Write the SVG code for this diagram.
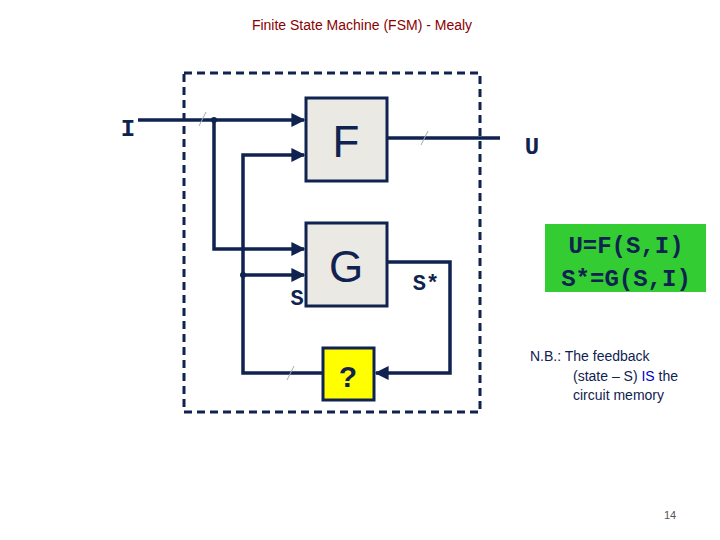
<svg xmlns="http://www.w3.org/2000/svg" width="720" height="540" viewBox="0 0 720 540">
<defs>
<style>
.w{stroke:#0f2250;stroke-width:3.5;fill:none}
.t{stroke:#aaa;stroke-width:1;fill:none}
.box{fill:#ebe9e3;stroke:#0f2250;stroke-width:3}
.m{font-family:"Liberation Mono",monospace;font-weight:bold;fill:#0f2250}
.s{font-family:"Liberation Sans",Arial,sans-serif}
</style>
<marker id="a" viewBox="0 0 10 10" refX="9" refY="5" markerWidth="4" markerHeight="4" orient="auto"><path d="M0,0L10,5L0,10z" fill="#0f2250"/></marker>
</defs>
<rect width="720" height="540" fill="#fff"/>
<text x="362" y="30" text-anchor="middle" class="s" font-size="14" fill="#8b0000">Finite State Machine (FSM) - Mealy</text>
<rect x="184" y="73" width="296" height="339" fill="none" stroke="#0f2250" stroke-width="3" stroke-dasharray="8,5"/>
<g id="connectors">
<path class="w" d="M138,120H304" marker-end="url(#a)"/>
<path class="w" d="M214,120V249H304" marker-end="url(#a)"/>
<path class="w" d="M323,373H243V155H304" marker-end="url(#a)"/>
<path class="w" d="M243,275H304" marker-end="url(#a)"/>
<path class="w" d="M387,138H500"/>
<path class="w" d="M387,262H450V373H376" marker-end="url(#a)"/>
<circle cx="214" cy="120" r="3" fill="#0f2250"/>
<circle cx="243" cy="275" r="3" fill="#0f2250"/>
<path class="t" d="M199,126L206,112M421,145L428,131M287,380L294,366"/>
</g>
<g id="F"><rect class="box" x="306" y="98" width="81" height="83"/><text x="346" y="157" text-anchor="middle" class="s" font-size="44" fill="#0f2250">F</text></g>
<g id="G"><rect class="box" x="306" y="223" width="81" height="83"/><text x="346" y="282" text-anchor="middle" class="s" font-size="44" fill="#0f2250">G</text></g>
<g id="Q"><rect x="323" y="348" width="51" height="52" fill="#ffff00" stroke="#0f2250" stroke-width="3"/><text x="348" y="387" text-anchor="middle" class="s" font-size="30" font-weight="bold" fill="#0f2250">?</text></g>
<text x="128" y="136" text-anchor="middle" class="m" font-size="24">I</text>
<text x="532" y="154" text-anchor="middle" class="m" font-size="24">U</text>
<text x="297" y="305" text-anchor="middle" class="m" font-size="22">S</text>
<text x="426" y="290" text-anchor="middle" class="m" font-size="22">S*</text>
<rect x="545" y="224" width="161" height="68" fill="#33cc33"/>
<text x="626" y="253" text-anchor="middle" class="m" font-size="24">U=F(S,I)</text>
<text x="626" y="286" text-anchor="middle" class="m" font-size="24">S*=G(S,I)</text>
<text class="s" font-size="14" fill="#0f2250"><tspan x="530" y="361">N.B.: The feedback</tspan><tspan x="573" y="381">(state – S) <tspan fill="#0000cc">IS</tspan> the</tspan><tspan x="573" y="400">circuit memory</tspan></text>
<text x="670" y="519" text-anchor="middle" class="s" font-size="11" fill="#555">14</text>
</svg>
